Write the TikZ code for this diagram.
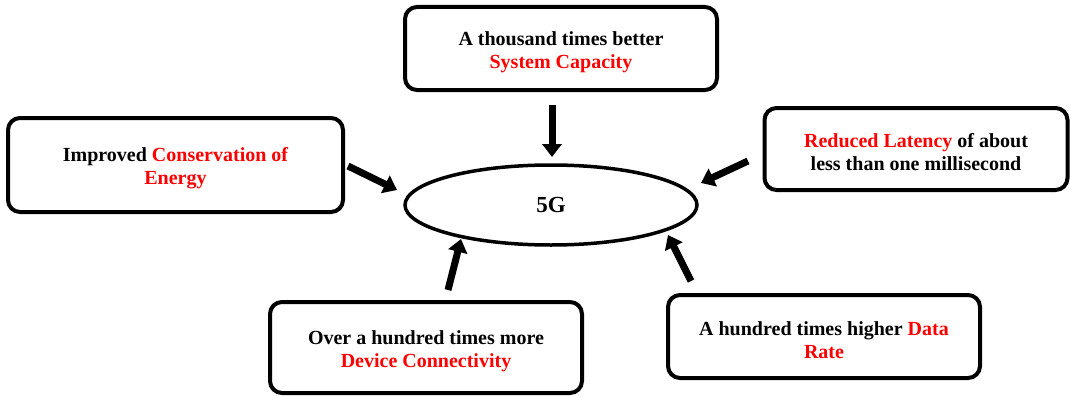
\documentclass[tikz,border=0pt]{standalone}
\usepackage{fontspec}
\setmainfont{Liberation Serif}
\usetikzlibrary{arrows.meta,shapes.geometric}
\begin{document}
\begin{tikzpicture}[x=1pt,y=-1pt,
  infobox/.style={draw=black,line width=4pt,rounded corners=12pt,fill=white,
    align=center,inner sep=0pt,font=\bfseries\fontsize{20}{23}\selectfont},
  hub/.style={draw=black,ellipse,line width=3.5pt,inner sep=0pt,
    minimum width=292pt,minimum height=80pt,font=\bfseries\fontsize{23}{26}\selectfont},
  bigarrow/.style={line width=7pt,-{Triangle[length=13pt,width=19pt]}}]
\useasboundingbox (0,0) rectangle (1070,396);
\newcommand{\hl}[1]{\textcolor{red}{#1}}
% extra room above the first line, so the two lines sit a little low
\newcommand{\topgap}{\rule{0pt}{21pt}}

\node[hub] (g) at (551,205) {5G};

\node[infobox,minimum width=312pt,minimum height=83pt] (cap) at (561,48.5)
  {\topgap A thousand times better\\ \hl{System Capacity}};
\node[infobox,minimum width=335pt,minimum height=94pt] (eng) at (175.5,165)
  {\topgap Improved \hl{Conservation of}\\ \hl{Energy}};
\node[infobox,minimum width=303pt,minimum height=82pt] (lat) at (916,149)
  {\topgap\hl{Reduced Latency} of about\\ less than one millisecond};
\node[infobox,minimum width=312pt,minimum height=91pt] (dev) at (426,347.5)
  {\topgap Over a hundred times more\\ \hl{Device Connectivity}};
\node[infobox,minimum width=312pt,minimum height=83pt] (rate) at (824,336.5)
  {\topgap A hundred times higher \hl{Data}\\ \hl{Rate}};

% arrow ends, each pointing at the hub
\coordinate (capS) at (552,105);  \coordinate (capT) at (552,157);
\coordinate (engS) at (348,166);  \coordinate (engT) at (397,190);
\coordinate (latS) at (748,161);  \coordinate (latT) at (701,183);
\coordinate (devS) at (448,290);  \coordinate (devT) at (461,239);
\coordinate (rateS) at (691,281); \coordinate (rateT) at (668,235);

\draw[bigarrow] (capS) -- (capT);
\draw[bigarrow] (engS) -- (engT);
\draw[bigarrow] (latS) -- (latT);
\draw[bigarrow] (devS) -- (devT);
\draw[bigarrow] (rateS) -- (rateT);
\end{tikzpicture}
\end{document}
